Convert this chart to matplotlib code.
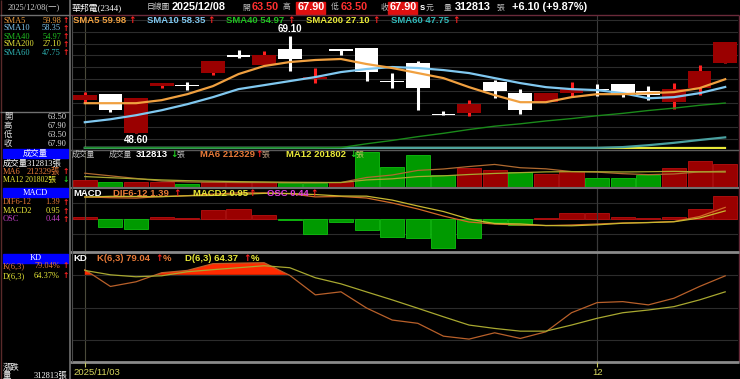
import numpy as np
import matplotlib
matplotlib.use("Agg")
import matplotlib.pyplot as plt

W, H = 740, 379

# ---- data (2025/11/03 .. 2025/12/08, 26 sessions) ----
opens = [55.58, 56.84, 48.60, 58.60, 58.74, 61.35, 65.08, 62.97, 66.35, 60.10, 66.29, 66.50, 59.55,
         63.46, 52.50, 52.98, 59.38, 57.12, 55.22, 57.05, 57.84, 58.96, 57.48, 55.09, 58.17, 63.50]
highs = [57.37, 56.84, 56.00, 59.10, 59.38, 63.88, 66.14, 65.93, 69.10, 62.34, 66.29, 66.50, 61.34,
         63.88, 53.31, 55.58, 59.80, 57.84, 57.00, 59.44, 58.96, 58.96, 58.53, 59.10, 62.97, 67.90]
lows = [55.05, 53.04, 48.60, 58.05, 57.69, 60.86, 64.45, 62.97, 61.77, 59.17, 65.08, 59.65, 58.17,
        53.61, 52.41, 52.26, 56.00, 52.77, 55.22, 56.27, 56.42, 56.15, 55.58, 53.82, 56.63, 63.50]
closes = [56.63, 53.46, 56.00, 59.10, 58.50, 63.88, 64.66, 65.08, 64.18, 60.25, 65.93, 61.56, 59.40,
          58.05, 52.41, 54.73, 57.48, 53.61, 57.00, 57.90, 57.70, 56.84, 56.60, 57.84, 61.80, 67.90]

sma5 = [54.94, 54.94, 54.94, 55.58, 56.84, 58.53, 61.07, 62.76, 63.60, 64.03, 64.24, 63.18, 62.34,
        61.28, 60.22, 58.32, 56.63, 55.15, 55.15, 56.21, 56.84, 56.84, 57.05, 57.27, 58.11, 59.98]
sma10 = [50.93, 51.56, 52.41, 53.46, 54.73, 56.21, 57.90, 58.74, 59.59, 60.44, 61.49, 62.13, 62.55,
         62.34, 61.91, 61.28, 60.22, 59.17, 58.32, 57.90, 57.69, 57.05, 55.98, 56.21, 57.05, 58.35]
sma40 = [38.5, 39.0, 39.5, 40.2, 40.9, 41.6, 42.3, 43.0, 43.7, 44.5, 45.6, 46.4, 47.1,
         47.9, 48.6, 49.4, 50.1, 50.6, 51.2, 51.7, 52.3, 52.8, 53.4, 53.9, 54.5, 54.97]
sma60 = [41.6, 41.8, 41.9, 42.1, 42.3, 42.5, 42.7, 42.9, 43.1, 43.3, 43.5, 43.7, 43.9,
         44.0, 44.2, 44.3, 44.5, 44.7, 44.8, 45.0, 45.3, 45.7, 46.1, 46.6, 47.2, 47.75]
sma200 = [25.9, 25.95, 26.0, 26.05, 26.1, 26.15, 26.2, 26.25, 26.3, 26.35, 26.4, 26.45, 26.5,
          26.55, 26.6, 26.65, 26.7, 26.75, 26.8, 26.85, 26.9, 26.95, 27.0, 27.03, 27.07, 27.10]

volume = [90000, 63000, 67000, 63000, 40000, 63000, 67000, 63000, 54000, 54000, 63000, 466000, 268000,
          434000, 165000, 255000, 232000, 201000, 179000, 211000, 125000, 125000, 157000, 255000, 345000, 312813]
vol_ma6 = [185000, 150000, 115000, 80000, 68000, 64000, 60000, 60000, 58000, 57000, 61000, 128000, 161000,
           223000, 242000, 275000, 303000, 259000, 244000, 207000, 200000, 179000, 166000, 175000, 203000, 212329]
vol_ma12 = [140000, 125000, 110000, 95000, 85000, 78000, 72000, 68000, 64000, 62000, 60000, 95000, 110000,
            140000, 150000, 168000, 182000, 193000, 203000, 206000, 205000, 202000, 205000, 210000, 204000, 201802]

dif = [2.70, 2.60, 2.55, 2.75, 2.85, 3.05, 3.20, 3.20, 3.10, 2.70, 2.75, 2.56, 1.94,
       1.19, 0.31, -0.44, -0.69, -0.81, -0.88, -0.81, -0.69, -0.56, -0.50, -0.38, 0.25, 1.39]
macd2 = [2.68, 2.77, 2.75, 2.72, 2.84, 2.88, 3.01, 3.14, 3.12, 2.99, 2.81, 2.79, 2.30,
         1.56, 0.87, -0.07, -0.63, -0.68, -0.88, -0.91, -0.79, -0.59, -0.51, -0.41, 0.06, 0.95]
osc = [0.02, -0.17, -0.20, 0.03, 0.01, 0.17, 0.19, 0.06, -0.02, -0.29, -0.06, -0.23, -0.36,
       -0.37, -0.56, -0.37, -0.06, -0.13, 0.01, 0.10, 0.10, 0.03, 0.01, 0.03, 0.19, 0.44]

k_line = [84.7, 69.3, 73.6, 81.9, 84.0, 90.2, 90.7, 91.1, 79.5, 61.6, 64.4, 49.5, 38.5,
          35.5, 23.7, 21.0, 26.8, 21.6, 27.7, 45.2, 54.5, 55.4, 52.4, 58.5, 69.3, 79.04]
d_line = [84.0, 80.0, 78.2, 79.1, 82.8, 84.7, 86.5, 88.3, 86.5, 77.3, 71.7, 64.3, 57.0,
          49.3, 41.5, 33.9, 30.8, 28.3, 28.3, 33.9, 40.1, 45.2, 47.7, 50.8, 57.0, 64.37]

month_idx = [0, 20]
month_labels = ["2025/11/03", "12"]

# ---- styling ----
SANS = ["Liberation Sans", "Noto Sans CJK TC"]
SERIF = ["Liberation Serif", "Noto Sans CJK TC"]
ARROW = ["DejaVu Sans"]
ORANGE, YELLOW, LBLUE, GREEN, TEAL = "#f0a040", "#e8e838", "#80c8f0", "#20c020", "#30b8b8"
UPRED, DNGREEN, MAG = "#ff2020", "#20d020", "#e040e0"
BAR_RED, BAR_GREEN = "#9a0000", "#009a00"

x = np.arange(len(closes))
o, h, l, c = map(np.array, (opens, highs, lows, closes))

fig = plt.figure(figsize=(W / 100, H / 100), dpi=100, facecolor="black")


def panel(x0, y0, x1, y1):
    ax = fig.add_axes([x0 / W, 1 - y1 / H, (x1 - x0) / W, (y1 - y0) / H])
    ax.set_facecolor("black")
    ax.set_xlim(-0.5, 25.5)
    ax.set_xticks([])
    ax.set_yticks([])
    for s in ax.spines.values():
        s.set_visible(False)
    for i in month_idx:
        ax.axvline(i, color="#4a4a3a" if i == 0 else "#3a3a3a", lw=0.8, zorder=0)
    return ax


# price panel
ax1 = panel(72, 15, 738, 149)
ymin = 45.3
ax1.set_ylim(ymin, 73.5)
for lv in np.arange(47.5, 73.5, 2.5):
    ax1.axhline(lv, color="#2c2c2c", lw=0.8, zorder=0)
up = c >= o
for i in x:
    wick = UPRED if up[i] else "white"
    ax1.vlines(i, l[i], h[i], color=wick, lw=2.2, zorder=2)
body = np.maximum(np.abs(c - o), 0.3)
ax1.bar(x, body, bottom=np.minimum(o, c), width=0.93,
        color=np.where(up, BAR_RED, "white"), zorder=3)
clamp = ymin + 0.25
ax1.plot(x, np.maximum(sma200, clamp), color=YELLOW, lw=1.6, zorder=4)
ax1.plot(x, np.maximum(sma60, clamp), color="#4aa0a0", lw=1.6, zorder=4)
ax1.plot(x, np.maximum(sma40, clamp), color="#1a8a1a", lw=1.0, zorder=4)
ax1.plot(x, sma10, color=LBLUE, lw=1.6, zorder=5)
ax1.plot(x, sma5, color=ORANGE, lw=1.6, zorder=5)
hi, lo = int(np.argmax(h)), int(np.argmin(l))
ax1.text(hi, h[hi] + 0.4, f"{h[hi]:.2f}", color="white", fontsize=7, fontweight="bold",
         ha="center", va="bottom", family=SANS)
ax1.text(lo, l[lo] - 0.4, f"{l[lo]:.2f}", color="white", fontsize=7, fontweight="bold",
         ha="center", va="top", family=SANS)

# volume panel
ax2 = panel(72, 150, 738, 187)
ax2.set_ylim(0, 497000)
vcol = [BAR_RED if i == 0 or closes[i] >= closes[i - 1] else BAR_GREEN for i in x]
ecol = ["#b81010" if cc == BAR_RED else "#10c010" for cc in vcol]
ax2.bar(x, volume, width=0.94, color=vcol, edgecolor=ecol, lw=0.6, zorder=2)
ax2.plot(x, vol_ma6, color="#b06a30", lw=0.9, zorder=3)
ax2.plot(x, vol_ma12, color="#a8a830", lw=0.9, zorder=3)

# MACD panel: lines and OSC histogram share the zero line but not the scale
ax3b = panel(72, 188, 738, 251)
ax3b.set_ylim(-0.625, 0.587)
ocol = [BAR_RED if v >= 0 else BAR_GREEN for v in osc]
oedge = ["#b81010" if v >= 0 else "#10c010" for v in osc]
ax3b.bar(x, osc, width=0.94, color=ocol, edgecolor=oedge, lw=0.6, zorder=2)
ax3 = panel(72, 188, 738, 251)
ax3.patch.set_visible(False)
ax3.set_ylim(-4.06, 3.81)
for lv in (-2, 0, 2):
    ax3b.axhline(lv * 0.1535, color="#2c2c2c", lw=0.8, zorder=0)
ax3.plot(x, dif, color="#d06a28", lw=0.9, zorder=3)
ax3.plot(x, macd2, color="#c8b830", lw=0.9, zorder=3)

# KD panel
ax4 = panel(72, 253, 738, 362)
ax4.set_ylim(0, 100)
for lv in (20, 50, 80):
    ax4.axhline(lv, color="#2c2c2c", lw=0.8, zorder=0)
kk = np.array(k_line)
ax4.fill_between(x, kk, 80, where=kk > 80, interpolate=True, color="#ff2a00", lw=0, zorder=1)
ax4.plot(x, k_line, color="#b8602a", lw=0.9, zorder=3)
ax4.plot(x, d_line, color="#a8a830", lw=0.9, zorder=3)

# ---- overlay for frames and texts (pixel coordinates) ----
ov = fig.add_axes([0, 0, 1, 1], zorder=20)
ov.set_xlim(0, W)
ov.set_ylim(H, 0)
ov.axis("off")
ov.patch.set_alpha(0)


def t(xp, yp, s, col="white", size=6.8, bold=True, fam=SANS, ha="left"):
    ov.text(xp, yp, s, color=col, fontsize=size, fontweight="bold" if bold else "normal",
            family=fam, ha=ha, va="center")


def arr(xp, yp, s="↑", col=UPRED, size=6.5):
    ov.text(xp, yp, s, color=col, fontsize=size, fontweight="bold", family=ARROW,
            ha="left", va="center")


def hline(y, x0, x1, col="#606060", lw=1.0):
    ov.plot([x0, x1], [y, y], color=col, lw=lw, solid_capstyle="butt")


def vline(xp, y0, y1, col="#606060", lw=1.0):
    ov.plot([xp, xp], [y0, y1], color=col, lw=lw, solid_capstyle="butt")


# frames
hline(15, 70, 739, "#6a2a3a")
vline(738.5, 15, 362, "#6a2a3a")
hline(149.5, 70, 739, "#5a5a5a")
hline(187.5, 70, 739, "#707070", 1.5)
hline(252, 70, 739, "#8a8a8a", 2)
hline(362, 70, 739, "#8a8a8a", 2)
vline(69.5, 0, 379, "#707070", 1.2)
vline(71.5, 15, 362, "#4a4a4a", 0.8)
vline(1, 0, 379, "#5a2a2a", 1.0)
hline(15, 0, 70, "#707070")
hline(111.5, 0, 70, "#707070")
for xi, lab in zip(month_idx, month_labels):
    xp = 72 + (xi + 0.5) * 666 / 26
    vline(xp, 362, 367, "#c8c860", 0.8)
    t(xp if xi else 73, 372.5, lab, "#d8d860", 6.8, False, SANS, "center" if xi else "left")

# top header
CJK_SMALL = 5.6
t(8, 7.5, "2025/12/08(一)", "#d0d0d0", 6.0, False, SERIF)
t(72, 7.5, "華邦電(2344)", "white", 6.4, False, SERIF)
t(147, 7.5, "日線圖", "#d0d0d0", CJK_SMALL, False, SERIF)
t(172, 7.5, "2025/12/08", "white", 7.8)
t(242, 7.5, "開", "#c0c0c0", CJK_SMALL, False, SERIF)
t(252, 7.5, "63.50", "#ff3030", 7.8)
t(283, 7.5, "高", "#c0c0c0", CJK_SMALL, False, SERIF)
ov.add_patch(plt.Rectangle((296, 1.5), 29, 12, color="#e01010"))
t(297.5, 7.5, "67.90", "white", 7.8)
t(331, 7.5, "低", "#c0c0c0", CJK_SMALL, False, SERIF)
t(341, 7.5, "63.50", "#ff3030", 7.8)
t(381, 7.5, "收", "#c0c0c0", CJK_SMALL, False, SERIF)
ov.add_patch(plt.Rectangle((388, 1.5), 29, 12, color="#e01010"))
t(389.5, 7.5, "67.90", "white", 7.8)
t(420, 7.5, "s", "white", 6.8)
t(426, 7.5, "元", "#c0c0c0", CJK_SMALL, False, SERIF)
t(444, 7.5, "量", "#c0c0c0", CJK_SMALL, False, SERIF)
t(455, 7.5, "312813", "white", 7.8)
t(497, 7.5, "張", "#c0c0c0", CJK_SMALL, False, SERIF)
t(512, 7.5, "+6.10 (+9.87%)", "white", 7.8)

# price legend
for xp, lab, col, ax_ in [(73, "SMA5 59.98", ORANGE, 128), (147, "SMA10 58.35", LBLUE, 207),
                          (226, "SMA40 54.97", GREEN, 287), (306, "SMA200 27.10", YELLOW, 372),
                          (391, "SMA60 47.75", TEAL, 452)]:
    t(xp, 20.5, lab, col)
    arr(ax_, 20.5)

# volume legend
t(72, 154.5, "成交量", "#c0c0c0", CJK_SMALL, False, SERIF)
t(109, 154.5, "成交量", "#c0c0c0", CJK_SMALL, False, SERIF)
t(136, 154.5, "312813", "white")
arr(170, 154.5, "↓", DNGREEN)
t(177, 154.5, "張", "#c0c0c0", CJK_SMALL, False, SERIF)
t(200, 154.5, "MA6 212329", "#e87a38")
arr(255, 154.5)
t(262, 154.5, "張", "#c0a080", CJK_SMALL, False, SERIF)
t(286, 154.5, "MA12 201802", YELLOW)
arr(349, 154.5, "↓", DNGREEN)
t(356, 154.5, "張", "#c0c060", CJK_SMALL, False, SERIF)

# MACD legend
t(73, 193.5, "MACD", "white")
t(113, 193.5, "DIF6-12 1.39", "#e87a38")
arr(173, 193.5)
t(193, 193.5, "MACD2 0.95", YELLOW)
arr(248, 193.5)
t(267, 193.5, "OSC 0.44", MAG)
arr(310, 193.5)

# KD legend
t(73, 258.5, "KD", "white")
t(97, 258.5, "K(6,3) 79.04", "#e87a38")
arr(155, 258.5)
t(163, 258.5, "%", "#e87a38")
t(185, 258.5, "D(6,3) 64.37", YELLOW)
arr(243, 258.5)
t(251, 258.5, "%", YELLOW)

# left info column
LS = 6.0
for yp, lab, val, col in [(20.7, "SMA5", "59.98", ORANGE), (28.5, "SMA10", "58.35", LBLUE),
                          (36.7, "SMA40", "54.97", GREEN), (44.5, "SMA200", "27.10", YELLOW),
                          (52.7, "SMA60", "47.75", TEAL)]:
    t(4, yp, lab, col, LS, False, SERIF)
    t(61, yp, val, col, LS, False, SERIF, "right")
    arr(62.5, yp, size=5.5)
for yp, lab, val in [(116.7, "開", "63.50"), (126, "高", "67.90"), (135, "低", "63.50"), (144, "收", "67.90")]:
    t(4, yp, lab, "#e0e0e0", LS, False, SERIF)
    t(67, yp, val, "#e0e0e0", LS, False, SERIF, "right")

for y0, lab in [(149, "成交量"), (188.3, "MACD"), (254, "KD")]:
    ov.add_patch(plt.Rectangle((3, y0), 65, 8.5, color="#0000ff"))
    t(35.5, y0 + 4.3, lab, "white", LS, False, SERIF, "center")
t(3, 163.3, "成交量312813張", "white", LS, False, SERIF)
t(3, 171.7, "MA6", "#e87a38", LS, False, SERIF)
t(60, 171.7, "212329張", "#e87a38", LS, False, SERIF, "right")
arr(62.5, 171.7, size=5.5)
t(3, 179.5, "MA12 201802張", YELLOW, 5.6, False, SERIF)
arr(62.5, 179.5, "↓", DNGREEN, 5.5)
t(3, 202.3, "DIF6-12", "#e87a38", LS, False, SERIF)
t(60, 202.3, "1.39", "#e87a38", LS, False, SERIF, "right")
arr(62.5, 202.3, size=5.5)
t(3, 211, "MACD2", YELLOW, LS, False, SERIF)
t(60, 211, "0.95", YELLOW, LS, False, SERIF, "right")
arr(62.5, 211, size=5.5)
t(3, 219, "OSC", "#c040c0", LS, False, SERIF)
t(60, 219, "0.44", "#c040c0", LS, False, SERIF, "right")
arr(62.5, 219, size=5.5)
t(3, 266, "K(6,3)", "#e87a38", LS, False, SERIF)
t(60, 266, "79.04%", "#e87a38", LS, False, SERIF, "right")
arr(62.5, 266, size=5.5)
t(3, 276, "D(6,3)", YELLOW, LS, False, SERIF)
t(60, 276, "64.37%", YELLOW, LS, False, SERIF, "right")
arr(62.5, 276, size=5.5)
t(3, 367.5, "漲跌", "white", LS, False, SERIF)
t(3, 375.5, "量", "white", LS, False, SERIF)
t(67, 375.5, "312813張", "white", LS, False, SERIF, "right")

fig.savefig("out.png", dpi=100, facecolor="black")
